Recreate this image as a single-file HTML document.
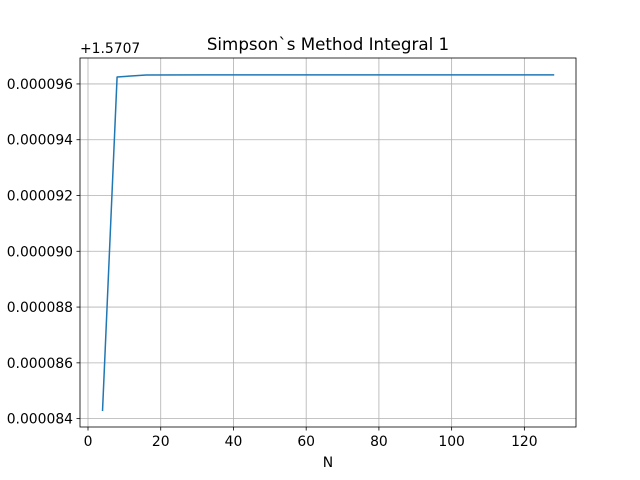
<!DOCTYPE html>
<html><head><meta charset="utf-8"><style>
html,body{margin:0;padding:0;background:#fff;}
svg{display:block;font-family:"DejaVu Sans","Liberation Sans",sans-serif;}
</style></head><body>
<svg id="chart" width="640" height="480"></svg>
<script>
const nValues=[4,8,16,32,64,128];
const yValues=[0.0000843,0.00009625,0.00009632,0.0000963268,0.0000963268,0.0000963268];
const xTicks=[0,20,40,60,80,100,120];
const yTicks=[0.000084,0.000086,0.000088,0.000090,0.000092,0.000094,0.000096];
const yTickLabels=["0.000084","0.000086","0.000088","0.000090","0.000092","0.000094","0.000096"];
const L=80,R=576,T=58,B=427;
const xmin=-2.2,xmax=134.2;
const ymin=0.0000837,ymax=0.00009693;
const sx=v=>L+(v-xmin)/(xmax-xmin)*(R-L);
const sy=v=>B-(v-ymin)/(ymax-ymin)*(B-T);
const svg=document.getElementById('chart');
const NS='http://www.w3.org/2000/svg';
function mk(tag,attrs,text){const e=document.createElementNS(NS,tag);for(const k in attrs)e.setAttribute(k,attrs[k]);if(text!==undefined)e.textContent=text;svg.appendChild(e);return e;}
xTicks.forEach(t=>{const x=sx(t);
const g=mk('line',{x1:x,x2:x,y1:T,y2:B,stroke:'#b0b0b0','stroke-width':0.8});

const k=mk('line',{x1:x,x2:x,y1:B,y2:B+3.5,stroke:'#000','stroke-width':0.8});

const l=mk('text',{x:x,y:B+19,'font-size':13.9,'text-anchor':'middle',fill:'#000'},String(t));
});
yTicks.forEach((t,i)=>{const y=sy(t);
const g=mk('line',{x1:L,x2:R,y1:y,y2:y,stroke:'#b0b0b0','stroke-width':0.8});

const k=mk('line',{x1:L-3.5,x2:L,y1:y,y2:y,stroke:'#000','stroke-width':0.8});

const l=mk('text',{x:L-7,y:y+5,'font-size':13.9,'text-anchor':'end',fill:'#000'},yTickLabels[i]);
});
const pts=nValues.map((n,i)=>sx(n)+','+sy(yValues[i])).join(' ');
const line=mk('polyline',{points:pts,fill:'none',stroke:'#1f77b4','stroke-width':1.5,'stroke-linejoin':'round','stroke-linecap':'square'});

const fr=mk('rect',{x:L,y:T,width:R-L,height:B-T,fill:'none',stroke:'#000','stroke-width':0.8});

const off=mk('text',{x:L,y:T-5,'font-size':13.9,fill:'#000'},'+1.5707');

const ti=mk('text',{x:(L+R)/2,y:T-8,'font-size':16.7,'text-anchor':'middle',fill:'#000'},'Simpson`s Method Integral 1');

const xl=mk('text',{x:(L+R)/2,y:B+40,'font-size':13.9,'text-anchor':'middle',fill:'#000'},'N');

</script>
</body></html>
